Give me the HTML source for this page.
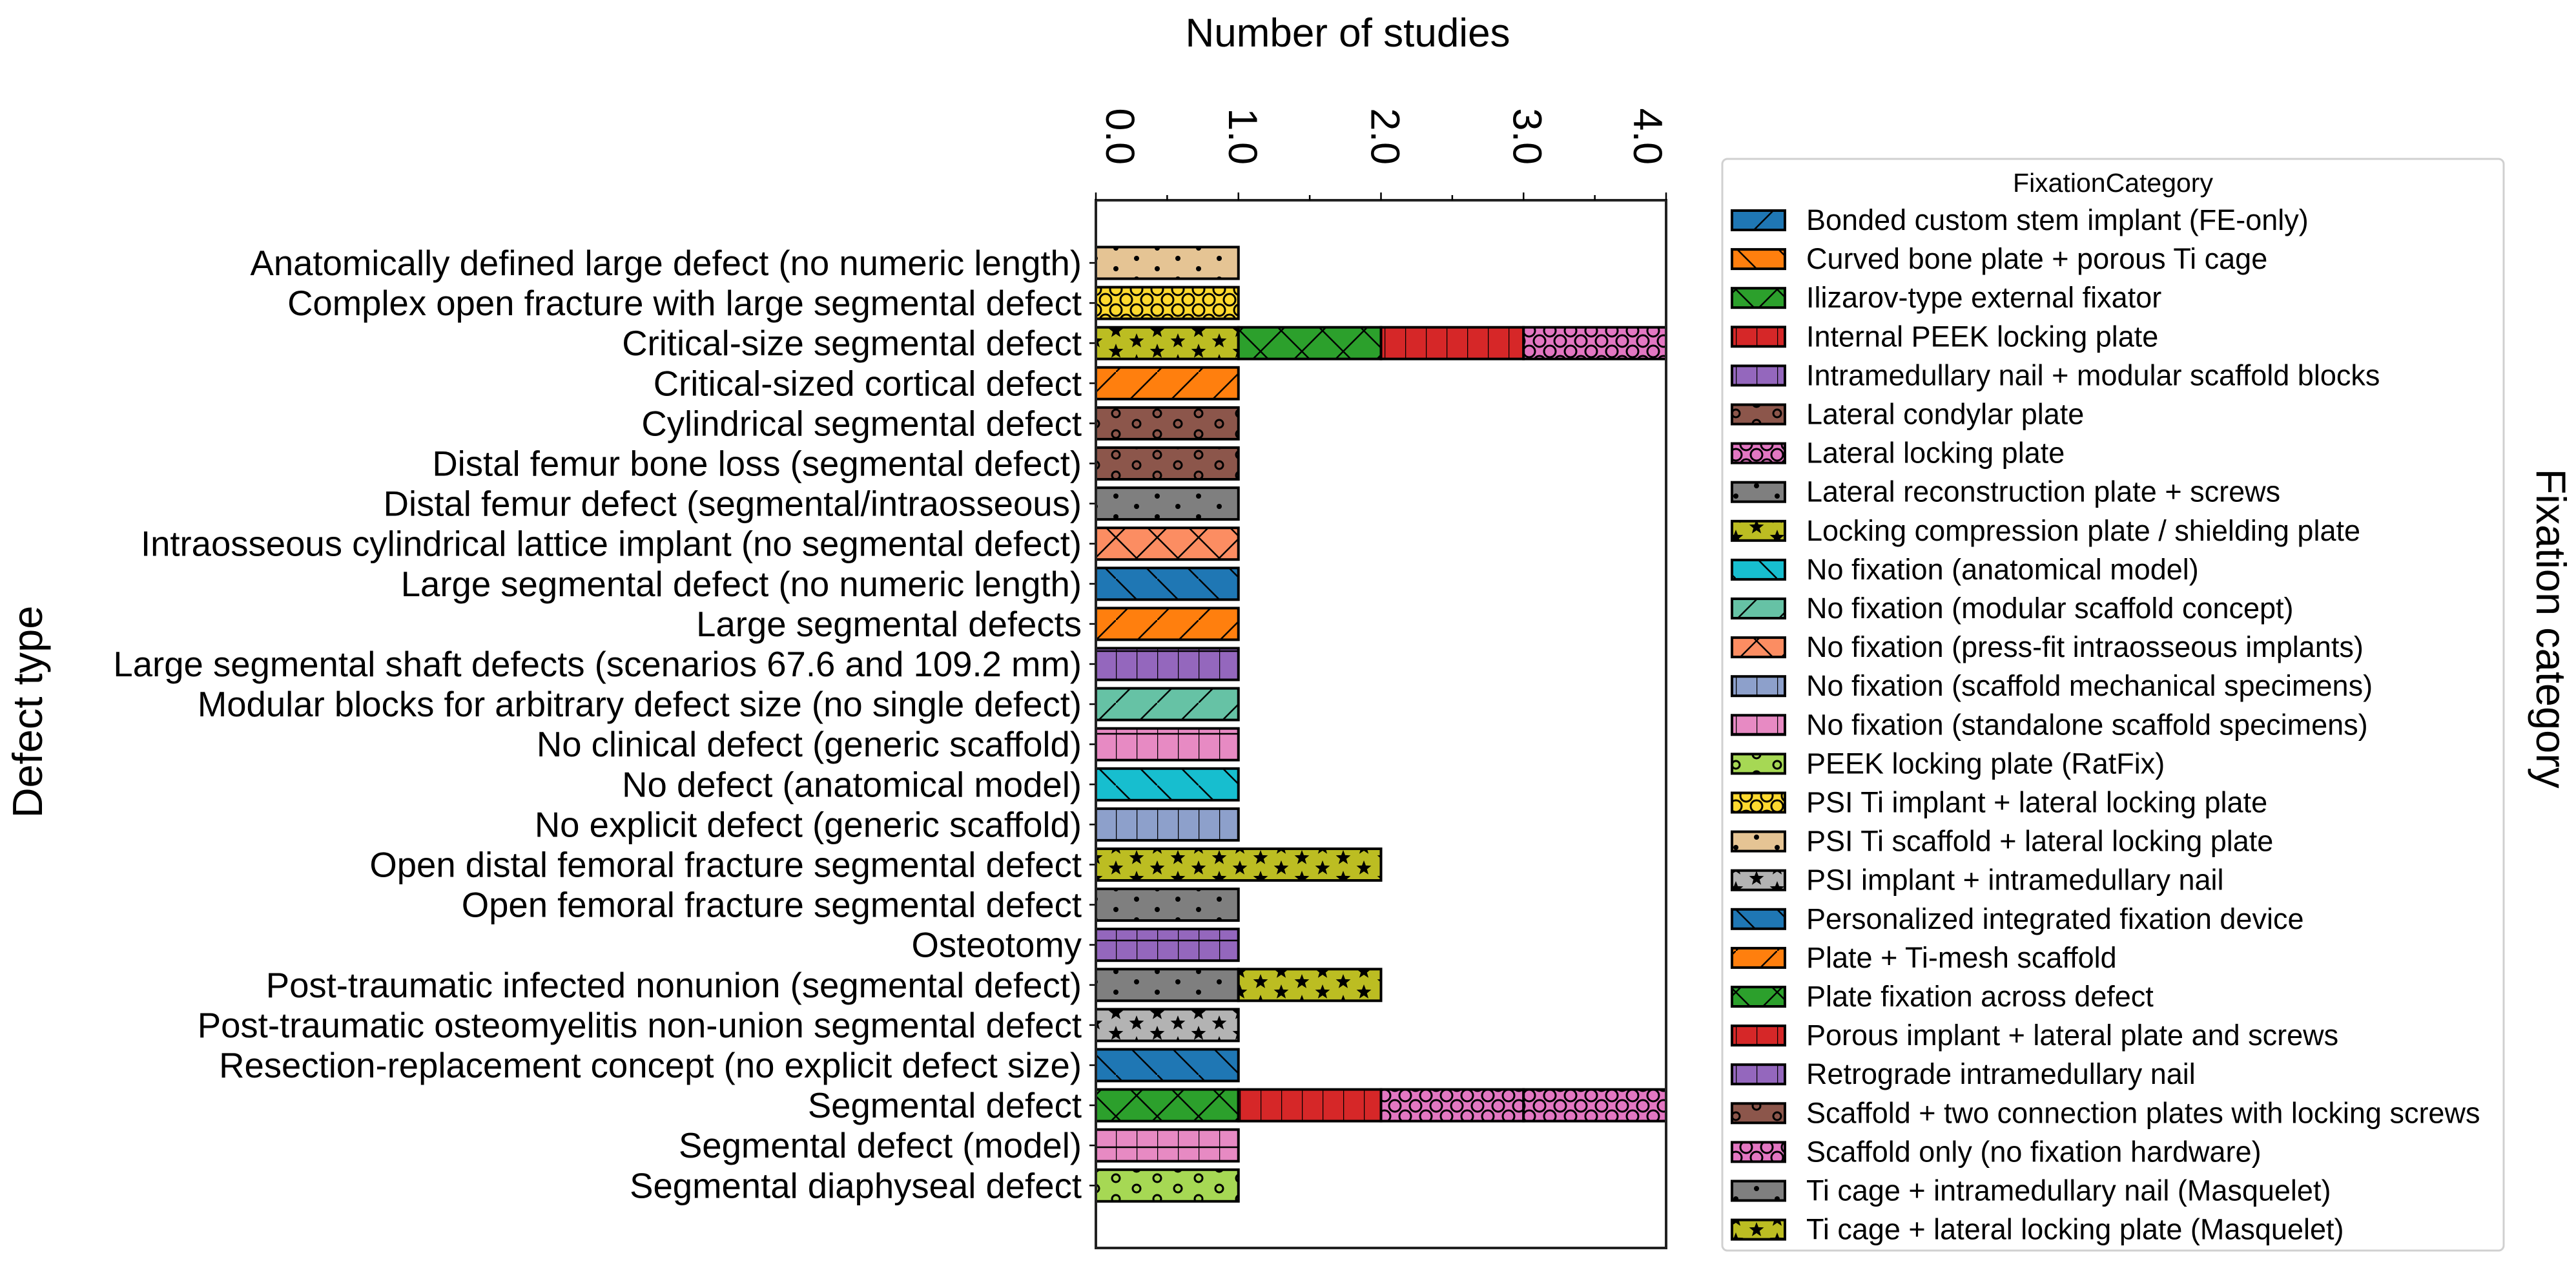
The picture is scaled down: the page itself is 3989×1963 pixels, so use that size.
<!DOCTYPE html>
<html><head><meta charset="utf-8"><style>
html,body{margin:0;padding:0;background:#fff;}
svg{display:block;font-family:"Liberation Sans","DejaVu Sans",sans-serif;}
</style></head><body>
<svg id="chart" width="3989" height="1963" viewBox="0 0 3989 1963" xmlns="http://www.w3.org/2000/svg">
<defs id="defs"></defs>
<rect x="0" y="0" width="3989" height="1963" fill="#fff"/>
<g id="plot"></g>
<g id="legend"></g>
</svg>
<script>
const defectTypes = [
"Anatomically defined large defect (no numeric length)",
"Complex open fracture with large segmental defect",
"Critical-size segmental defect",
"Critical-sized cortical defect",
"Cylindrical segmental defect",
"Distal femur bone loss (segmental defect)",
"Distal femur defect (segmental/intraosseous)",
"Intraosseous cylindrical lattice implant (no segmental defect)",
"Large segmental defect (no numeric length)",
"Large segmental defects",
"Large segmental shaft defects (scenarios 67.6 and 109.2 mm)",
"Modular blocks for arbitrary defect size (no single defect)",
"No clinical defect (generic scaffold)",
"No defect (anatomical model)",
"No explicit defect (generic scaffold)",
"Open distal femoral fracture segmental defect",
"Open femoral fracture segmental defect",
"Osteotomy",
"Post-traumatic infected nonunion (segmental defect)",
"Post-traumatic osteomyelitis non-union segmental defect",
"Resection-replacement concept (no explicit defect size)",
"Segmental defect",
"Segmental defect (model)",
"Segmental diaphyseal defect"
];
const fixationCategories = [
"Bonded custom stem implant (FE-only)","Curved bone plate + porous Ti cage","Ilizarov-type external fixator",
"Internal PEEK locking plate","Intramedullary nail + modular scaffold blocks","Lateral condylar plate",
"Lateral locking plate","Lateral reconstruction plate + screws","Locking compression plate / shielding plate",
"No fixation (anatomical model)","No fixation (modular scaffold concept)","No fixation (press-fit intraosseous implants)",
"No fixation (scaffold mechanical specimens)","No fixation (standalone scaffold specimens)","PEEK locking plate (RatFix)",
"PSI Ti implant + lateral locking plate","PSI Ti scaffold + lateral locking plate","PSI implant + intramedullary nail",
"Personalized integrated fixation device","Plate + Ti-mesh scaffold","Plate fixation across defect",
"Porous implant + lateral plate and screws","Retrograde intramedullary nail","Scaffold + two connection plates with locking screws",
"Scaffold only (no fixation hardware)","Ti cage + intramedullary nail (Masquelet)","Ti cage + lateral locking plate (Masquelet)"
];
const categoryColors = ["#1f77b4","#ff7f0e","#2ca02c","#d62728","#9467bd","#8c564b","#e377c2","#7f7f7f","#bcbd22",
"#17becf","#66c2a5","#fc8d62","#8da0cb","#e78ac3","#a6d854","#ffd92f","#e5c494","#b3b3b3",
"#1f77b4","#ff7f0e","#2ca02c","#d62728","#9467bd","#8c564b","#e377c2","#7f7f7f","#bcbd22"];
const categoryHatches = ["/","\\","x","|","+","o","O",".","*","\\","/","x","|","+","o","O",".","*","\\","/","x","|","+","o","O",".","*"];
// stacked segments per defect type: category indices and counts
const segmentCategories = [[16],[15],[8,20,21,24],[19],[5],[23],[7],[11],[18],[19],[4],[10],[13],[9],[12],[8],[25],[22],[7,8],[17],[18],[2,3,6,24],[13],[14]];
const segmentValues = [[1],[1],[1,1,1,1],[1],[1],[1],[1],[1],[1],[1],[1],[1],[1],[1],[1],[2],[1],[1],[1,1],[1],[1],[1,1,1,1],[1],[1]];
const xTicks = [0,1,2,3,4];
const xTickLabels = ["0.0","1.0","2.0","3.0","4.0"];

const NS="http://www.w3.org/2000/svg";
const L=1697,R=2580,T=310,B=1932,XMAX=4;
const rowStep=62.1, firstY=407, barH=49;
function xs(v){return L+(R-L)*v/XMAX;}
function ys(i){return firstY+i*rowStep;}
function mk(tag,attrs,parent){const e=document.createElementNS(NS,tag);for(const k in attrs)e.setAttribute(k,attrs[k]);if(parent)parent.appendChild(e);return e;}
const defs=document.getElementById('defs'),plot=document.getElementById('plot'),leg=document.getElementById('legend');

function star(cx,cy,r){let p=[];for(let i=0;i<10;i++){const a=-Math.PI/2+i*Math.PI/5;const rr=i%2?r*0.42:r;p.push((cx+rr*Math.cos(a)).toFixed(1)+","+(cy+rr*Math.sin(a)).toFixed(1));}return p.join(" ");}
categoryColors.forEach((c,i)=>{
  const h=categoryHatches[i];let w=64,ht=64;
  if(h==="|"){w=32;ht=32;} if(h==="+"){w=32;ht=64;} if(h==="o"||h==="."||h==="*"){w=64;ht=32;} if(h==="O"){w=32;ht=32;}
  const p=mk('pattern',{id:'pat'+i,patternUnits:'userSpaceOnUse',width:w,height:ht,x:0,y:0},defs);
  mk('rect',{x:0,y:0,width:w,height:ht,fill:c},p);
  const st={stroke:'#000','stroke-width':2.5,fill:'none'};
  if(h==="/"||h==="x"){mk('line',Object.assign({x1:-4,y1:68,x2:68,y2:-4},st),p);}
  if(h==="\\"||h==="x"){mk('line',Object.assign({x1:-4,y1:-4,x2:68,y2:68},st),p);}
  if(h==="|"||h==="+"){mk('line',Object.assign({x1:0,y1:0,x2:0,y2:ht},st),p);}
  if(h==="+"){mk('line',Object.assign({x1:0,y1:48,x2:w,y2:48},st),p);}
  const pts=[[0,0],[w,0],[0,ht],[w,ht],[w/2,ht/2]];
  if(h==="o"){pts.forEach(q=>mk('circle',{cx:q[0],cy:q[1],r:6,fill:'none',stroke:'#000','stroke-width':3},p));}
  if(h==="O"){pts.forEach(q=>mk('circle',{cx:q[0],cy:q[1],r:9,fill:'none',stroke:'#000','stroke-width':3},p));}
  if(h==="."){pts.forEach(q=>mk('circle',{cx:q[0],cy:q[1],r:4,fill:'#000'},p));}
  if(h==="*"){pts.forEach(q=>mk('polygon',{points:star(q[0],q[1],12),fill:'#000'},p));}
});

const frame=mk('rect',{x:L,y:T,width:R-L,height:B-T,fill:'#fff',stroke:'none'},plot);



defectTypes.forEach((d,i)=>{
  let acc=0;
  segmentCategories[i].forEach((ci,j)=>{
    const v=segmentValues[i][j];
    const r=mk('rect',{x:xs(acc),y:ys(i)-barH/2,width:xs(acc+v)-xs(acc),height:barH,fill:'url(#pat'+ci+')',stroke:'#000','stroke-width':4},plot);
    
    
    acc+=v;
  });
  const tk=mk('line',{x1:L-10,y1:ys(i),x2:L,y2:ys(i),stroke:'#000','stroke-width':2.5},plot);
  
  
  const t=mk('text',{x:L-22,y:ys(i)+19,'text-anchor':'end','font-size':54.5,fill:'#000'},plot);
  t.textContent=d;
  
  
});

const sp=mk('rect',{x:L,y:T,width:R-L,height:B-T,fill:'none',stroke:'#222','stroke-width':4},plot);



for(let k=0;k<=8;k++){
  const v=k*0.5;
  const tl=mk('line',{x1:xs(v),y1:T,x2:xs(v),y2:T-(k%2?8:12),stroke:'#000','stroke-width':2.5},plot);
  
  
}
const labelOffsets=[38,7,7,6,-28];
xTicks.forEach((v,i)=>{
  const cx=xs(v)+labelOffsets[i];
  const t=mk('text',{x:0,y:0,'font-size':63,fill:'#000','text-anchor':'end',transform:'translate('+(cx-22)+','+255+') rotate(90)'},plot);
  t.textContent=xTickLabels[i];
  
  
});

let at=mk('text',{x:2087,y:72,'text-anchor':'middle','font-size':62,fill:'#000'},plot);
at.textContent='Number of studies';


at=mk('text',{x:0,y:0,'text-anchor':'middle','font-size':65,fill:'#000',transform:'translate(65,1102) rotate(-90)'},plot);
at.textContent='Defect type';


at=mk('text',{x:0,y:0,'text-anchor':'middle','font-size':65,fill:'#000',transform:'translate(3928,973) rotate(90)'},plot);
at.textContent='Fixation category';



const lb=mk('rect',{x:2667,y:246,width:1210,height:1690,rx:8,fill:'#fff',stroke:'#d0d0d0','stroke-width':3},leg);


const lt=mk('text',{x:3272,y:297,'text-anchor':'middle','font-size':41,fill:'#000'},leg);
lt.textContent='FixationCategory';


fixationCategories.forEach((c,i)=>{
  const cy=341+i*60.1;
  const g=mk('g',{},leg);
  
  
  mk('rect',{x:2682,y:cy-15,width:82,height:30,fill:'url(#pat'+i+')',stroke:'#000','stroke-width':4},g);
  const t=mk('text',{x:2797,y:cy+15,'font-size':45,fill:'#000'},g);
  t.textContent=c;
});
</script>
</body></html>
